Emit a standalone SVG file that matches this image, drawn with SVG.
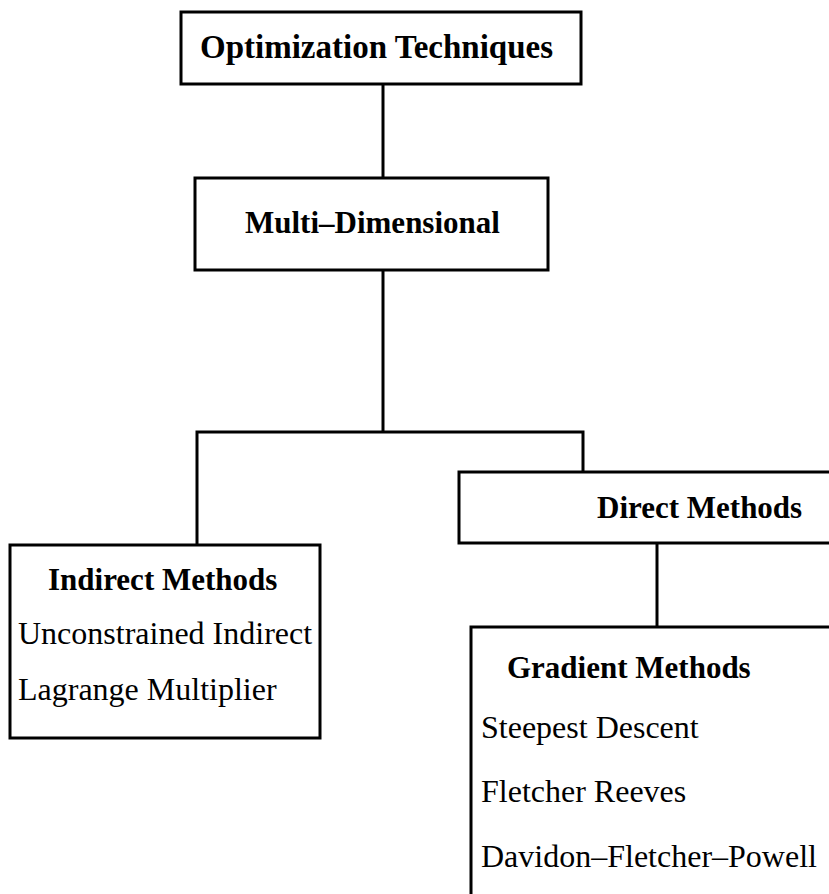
<svg xmlns="http://www.w3.org/2000/svg" width="829" height="894" viewBox="0 0 829 894">
<style>
.box{fill:#fff;stroke:#000;stroke-width:3}
.ln{fill:none;stroke:#000;stroke-width:3}
.b{font-family:"Liberation Serif","Times New Roman",serif;font-weight:bold;font-size:31px;fill:#000}
.r{font-family:"Liberation Serif","Times New Roman",serif;font-size:32px;fill:#000}
</style>
<rect width="829" height="894" fill="#fff"/>
<g id="connectors">
<line class="ln" x1="383" y1="84" x2="383" y2="178"/>
<line class="ln" x1="383" y1="270" x2="383" y2="432"/>
<polyline class="ln" points="197,545 197,432 583,432 583,472"/>
<line class="ln" x1="657" y1="543" x2="657" y2="627"/>
</g>
<g id="opt">
<rect class="box" x="181" y="12" width="400" height="72"/>
<text class="b" x="200" y="58" style="font-size:33px">Optimization Techniques</text>
</g>
<g id="multi">
<rect class="box" x="195" y="178" width="353" height="92"/>
<text class="b" x="245" y="233">Multi–Dimensional</text>
</g>
<g id="direct">
<rect class="box" x="459" y="472" width="380" height="71"/>
<text class="b" x="597" y="518">Direct Methods</text>
</g>
<g id="indirect">
<rect class="box" x="10" y="545" width="310" height="193"/>
<text class="b" x="48" y="590">Indirect Methods</text>
<text class="r" x="18" y="644">Unconstrained Indirect</text>
<text class="r" x="18" y="700">Lagrange Multiplier</text>
</g>
<g id="gradient">
<rect class="box" x="471" y="627" width="380" height="300"/>
<text class="b" x="507" y="678">Gradient Methods</text>
<text class="r" x="481" y="738">Steepest Descent</text>
<text class="r" x="481" y="802">Fletcher Reeves</text>
<text class="r" x="481" y="867">Davidon–Fletcher–Powell</text>
</g>
</svg>
